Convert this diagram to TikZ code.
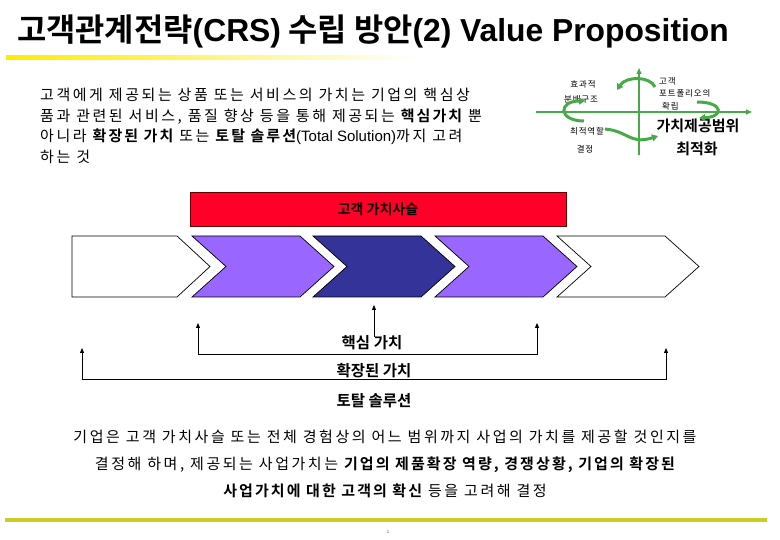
\documentclass[tikz,border=0pt]{standalone}
\usepackage{fontspec}
\newfontfamily\kr{Noto Sans CJK KR}[BoldFont={Noto Sans CJK KR Bold}]
\newfontfamily\krs{Noto Sans CJK KR}[BoldFont={Noto Sans CJK KR Bold},LetterSpace=10]
\newfontfamily\krw{Noto Sans CJK KR}[BoldFont={Noto Sans CJK KR Bold},LetterSpace=17]
\newfontfamily\krb{Noto Sans CJK KR Bold}[LetterSpace=14]
\newfontfamily\lat{Liberation Sans}
\newcommand\hl[1]{{\krb #1}}
\usetikzlibrary{arrows.meta,positioning}

\definecolor{chvPurple}{RGB}{153,102,255}
\definecolor{chvNavy}{RGB}{51,51,153}
\definecolor{barRed}{RGB}{255,0,40}
\definecolor{axisGreen}{RGB}{70,170,70}
\definecolor{lineYellow}{RGB}{204,204,34}

\begin{document}
\begin{tikzpicture}[x=1pt, y=-1pt,
  chev/.style={draw=black, line width=0.7pt},
  lbl/.style={font=\kr\bfseries\fontsize{15.5}{18}\selectfont, inner sep=1pt},
  up/.style={-{Triangle[length=5pt,width=4pt]}, line width=0.8pt},
  span/.style={{Triangle[length=5pt,width=4pt]}-{Triangle[length=5pt,width=4pt]}, line width=0.8pt},
  axis/.style={-{Triangle[length=6pt,width=5pt]}, axisGreen, line width=1.2pt},
  curl/.style={-{Triangle[length=6pt,width=7pt]}, axisGreen, line width=3pt},
  tiny/.style={font=\krs\fontsize{8.5}{10}\selectfont, inner sep=0pt},
  body/.style={font=\krw\fontsize{15}{20.5}\selectfont, inner sep=0pt}
]
\useasboundingbox (0,0) rectangle (780,540);

% title
\node[anchor=west, inner sep=0pt] (title) at (17,31)
  {\fontsize{31.8}{36}\selectfont\bfseries\kr 고객관계전략{\lat(CRS)} 수립 방안{\lat(2) Value Proposition}};
\shade[left color=yellow!85!orange, right color=white] (6,56) rectangle (420,60);

% intro text
\node[body, anchor=north west, align=left] (intro) at (40,88)
  {고객에게 제공되는 상품 또는 서비스의 가치는 기업의 핵심상\\
   품과 관련된 서비스, 품질 향상 등을 통해 제공되는 \hl{핵심가치} 뿐\\
   아니라 \hl{확장된 가치} 또는 \hl{토탈 솔루션}{\lat(Total Solution)}까지 고려\\
   하는 것};

% value range diagram
\draw[axis] (536,112) -- (752,112);
\draw[axis] (639,155) -- (639,68);
\node[tiny] (eff) at (583,84) {효과적};
\node[tiny] (dist) at (581,99) {분배구조};
\node[tiny] (role) at (587,131) {최적역할};
\node[tiny] (dec) at (585,149) {결정};
\node[tiny, anchor=west] (cust) at (659,81) {고객};
\node[tiny, anchor=west] (port) at (659,93) {포트폴리오의};
\node[tiny, anchor=west] (est) at (662,106) {확립};
\node[lbl, font=\kr\bfseries\fontsize{15}{18}\selectfont] (range) at (698,126) {가치제공범위};
\node[lbl, font=\kr\bfseries\fontsize{15}{18}\selectfont] (opt) at (697,149) {최적화};
\draw[curl] (655,87) .. controls (650,76) and (626,76) .. (617,90);
\draw[curl] (584,121) .. controls (558,121) and (558,101) .. (585,101);
\draw[curl] (697,102) .. controls (724,102) and (724,117) .. (699,118);
\draw[curl] (605,129) .. controls (628,131) and (630,145) .. (658,136);

% value chain
\node[draw=black!60!red, fill=barRed, minimum width=376, minimum height=34, inner sep=0pt,
  font=\kr\bfseries\fontsize{14}{16}\selectfont] (chain) at (378,209) {고객 가치사슬};
\draw[chev, fill=white] (72,236) -- (177,236) -- (210,266.5) -- (177,297) -- (72,297) -- cycle;
\foreach \x/\col in {192/chvPurple, 313/chvNavy, 435/chvPurple, 557/white}
  \draw[chev, fill=\col] (\x,236) -- (\x+108,236) -- (\x+142,266.5) -- (\x+108,297)
    -- (\x,297) -- (\x+34,266.5) -- cycle;

% value levels
\node[lbl] (core) at (372,343) {핵심 가치};
\node[lbl] (ext) at (374,371) {확장된 가치};
\node[lbl] (total) at (374,401) {토탈 솔루션};
\coordinate (extL) at (198,323);
\coordinate (extR) at (537,323);
\coordinate (totL) at (82,348);
\coordinate (totR) at (666,348);
\draw[up] (374,337) -- (374,305);
\draw[span] (extL) -- (198,354) -| (extR);
\draw[span] (totL) -- (82,379) -| (totR);

% closing text
\node[body, align=center, font=\krw\fontsize{15}{27}\selectfont] (summary) at (385,464)
  {기업은 고객 가치사슬 또는 전체 경험상의 어느 범위까지 사업의 가치를 제공할 것인지를\\
   결정해 하며, 제공되는 사업가치는 \hl{기업의 제품확장 역량, 경쟁상황, 기업의 확장된}\\
   \hl{사업가치에 대한 고객의 확신} 등을 고려해 결정};
\fill[lineYellow] (5,518) rectangle (767,522);
\node[font=\lat\fontsize{5}{6}\selectfont, text=black!50, inner sep=0pt] (page) at (388,532) {1};
\end{tikzpicture}
\end{document}
